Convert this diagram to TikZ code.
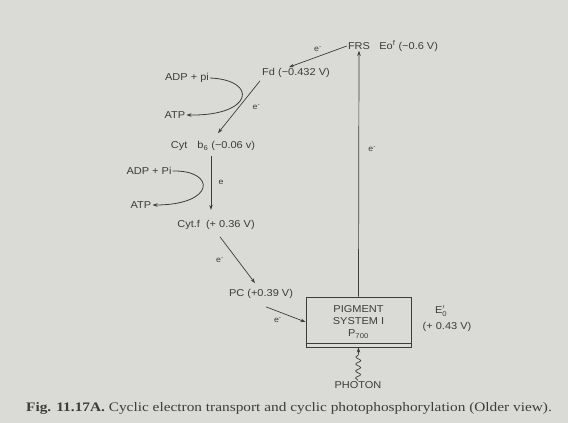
\documentclass[tikz,border=0pt]{standalone}
\usepackage{fontspec}
\setmainfont{Liberation Serif}
\setsansfont{Liberation Sans}[FakeStretch=1.1]
\newfontfamily\capfont{Liberation Serif}[FakeStretch=1.18]
\definecolor{paper}{RGB}{218,218,214}
\definecolor{ink}{RGB}{60,60,60}
\usetikzlibrary{calc, positioning, arrows.meta, decorations.pathmorphing}

\begin{document}
\begin{tikzpicture}[
  x=1pt, y=-1pt,
  font=\sffamily\fontsize{10}{12}\selectfont,
  text=ink,
  arrow/.style={-{Stealth[length=5pt, width=3.5pt]}, ink, line width=0.7pt},
  curv/.style={-{Stealth[length=5pt, width=3.5pt]}, ink, line width=0.8pt},
  lbl/.style={font=\sffamily\fontsize{8}{9}\selectfont, text=ink},
  nd/.style={inner sep=1pt},
  psbox/.style={draw=ink, line width=0.9pt, minimum width=105, minimum height=50,
                align=center, inner sep=2pt},
]

% --- paper ---
\fill[paper] (0,0) rectangle (568,423);
\useasboundingbox (0,0) rectangle (568,423);

% --- carriers ---
\node[nd] (frs) at (359,46) {FRS};
\node[nd, right=7pt of frs] (frsv) {Eo\textsuperscript{f} (−0.6 V)};
\node[nd] (fd) at (296,73) {Fd (−0.432 V)};
\node[nd] (adp1) at (187,78) {ADP + pi};
\node[nd] (atp1) at (175,115) {ATP};
\node[nd] (cytb) at (213,146) {Cyt\quad b\textsubscript{6} (−0.06 v)};
\node[nd] (adp2) at (149,171) {ADP + Pi};
\node[nd] (atp2) at (141,205) {ATP};
\node[nd] (cytf) at (216,225) {Cyt.f \ (+ 0.36 V)};
\node[nd] (pc) at (261,294) {PC (+0.39 V)};
\node[psbox] (ps) at (358.5,322) {PIGMENT\\SYSTEM I\\P\textsubscript{700}};
\node[nd] (e0) at (441,311) {E$_{\mathsf{0}}^{\prime}$};
\node[nd] (e0v) at (447,327) {(+ 0.43 V)};
\node[nd] (photon) at (358,385) {PHOTON};

% --- electron path ---
\draw[arrow] (ps.north) -- (frs.south) node[lbl, pos=0.6, right=6pt] {e\textsuperscript{-}};
\draw[arrow] (frs.west) -- ([xshift=-7pt]fd.north) node[lbl, midway, above=1pt] {e\textsuperscript{-}};
\draw[arrow] ([xshift=-1pt, yshift=-2pt]fd.south west) -- ([xshift=5pt, yshift=7pt]cytb.north)
  node[lbl, midway, right=10pt] {e\textsuperscript{-}};
\draw[arrow] ([xshift=-2pt, yshift=-4pt]cytb.south) -- +(0,54) node[lbl, midway, right=4pt] {e};
\draw[arrow] ([xshift=4pt, yshift=-6pt]cytf.south) -- ([xshift=-6pt, yshift=5pt]pc.north)
  node[lbl, midway, left=10pt] {e\textsuperscript{-}};
\draw[arrow] ([xshift=5pt, yshift=-7pt]pc.south) -- (ps.west) node[lbl, pos=0.3, below=3pt] {e\textsuperscript{-}};

% --- phosphorylation ---
\draw[curv] (adp1.east) .. controls (258,80) and (254,116) .. (atp1.east);
\draw[curv] (adp2.east) .. controls (216,170) and (216,205) .. (atp2.east);

% --- box detail and light ---
\draw[ink, line width=0.6pt] ([yshift=4pt]ps.south west) -- ([yshift=4pt]ps.south east);
\draw[arrow, decorate, decoration={snake, amplitude=2.5pt, segment length=7pt, post length=5pt}]
  (photon.north) -- (ps.south);

% --- caption ---
\node[font=\capfont\fontsize{13}{15}\selectfont] (cap) at (289,408)
  {\textbf{Fig. 11.17A.} Cyclic electron transport and cyclic photophosphorylation (Older view).};

\end{tikzpicture}
\end{document}
